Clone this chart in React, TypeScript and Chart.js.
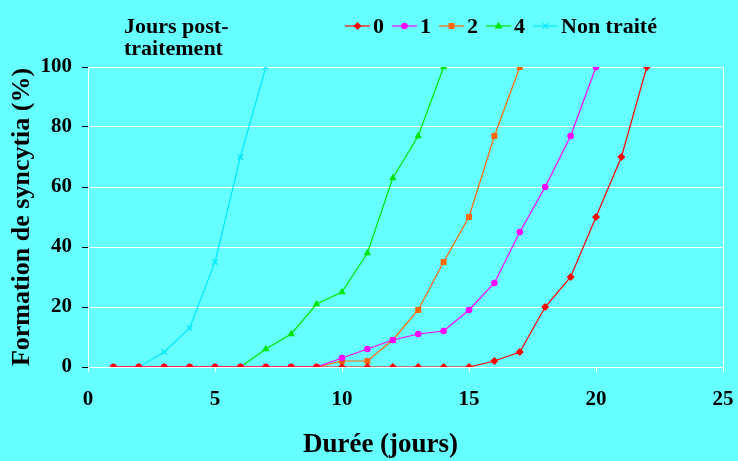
import React, { useEffect, useRef } from 'react';
import { Chart, registerables } from 'chart.js';

Chart.register(...registerables);

const days = [1, 2, 3, 4, 5, 6, 7, 8, 9, 10, 11, 12, 13, 14, 15, 16, 17, 18, 19, 20, 21, 22];
const seriesLabels = ['0', '1', '2', '4', 'Non traité'];
const values0 = [0, 0, 0, 0, 0, 0, 0, 0, 0, 0, 0, 0, 0, 0, 0, 2, 5, 20, 30, 50, 70, 100];
const values1 = [0, 0, 0, 0, 0, 0, 0, 0, 0, 3, 6, 9, 11, 12, 19, 28, 45, 60, 77, 100];
const values2 = [0, 0, 0, 0, 0, 0, 0, 0, 0, 2, 2, 9, 19, 35, 50, 77, 100];
const values4 = [0, 0, 0, 0, 0, 0, 6, 11, 21, 25, 38, 63, 77, 100];
const valuesNT = [0, 0, 5, 13, 35, 70, 100];
const xTicks = [0, 5, 10, 15, 20, 25];
const yTicks = [0, 20, 40, 60, 80, 100];
const legendTitle = ['Jours post-', 'traitement'];
const xTitle = 'Durée (jours)';
const yTitle = 'Formation de syncytia (%)';

const colors = ['#FF0000', '#FF00FF', '#FF6600', '#00E600', '#00E8FF'];
const styles = ['rectRot', 'circle', 'rect', 'triangle', 'crossRot'];
const radii = [4, 3.3, 4.2, 4.3, 3.8];
const allValues = [values0, values1, values2, values4, valuesNT];

const FONT = '"Liberation Serif", serif';

function drawMarker(ctx: CanvasRenderingContext2D, style: string, x: number, y: number, r: number, color: string) {
  ctx.save();
  ctx.fillStyle = color;
  ctx.strokeStyle = color;
  ctx.lineWidth = 1.3;
  ctx.beginPath();
  if (style === 'rectRot') {
    ctx.moveTo(x, y - r);
    ctx.lineTo(x + r, y);
    ctx.lineTo(x, y + r);
    ctx.lineTo(x - r, y);
    ctx.closePath();
    ctx.fill();
  } else if (style === 'circle') {
    ctx.arc(x, y, r, 0, Math.PI * 2);
    ctx.fill();
  } else if (style === 'rect') {
    const s = r * Math.SQRT1_2;
    ctx.rect(x - s, y - s, 2 * s, 2 * s);
    ctx.fill();
  } else if (style === 'triangle') {
    ctx.moveTo(x, y - r);
    ctx.lineTo(x + r * 0.9, y + r * 0.6);
    ctx.lineTo(x - r * 0.9, y + r * 0.6);
    ctx.closePath();
    ctx.fill();
  } else if (style === 'crossRot') {
    const s = r * 0.75;
    ctx.moveTo(x - s, y - s);
    ctx.lineTo(x + s, y + s);
    ctx.moveTo(x + s, y - s);
    ctx.lineTo(x - s, y + s);
    ctx.stroke();
  }
  ctx.restore();
}

const decorPlugin = {
  id: 'decor',
  beforeDatasetsDraw(chart: any) {
    const ctx: CanvasRenderingContext2D = chart.ctx;
    const a = chart.chartArea;
    ctx.save();
    ctx.strokeStyle = '#fff';
    ctx.lineWidth = 1;
    ctx.beginPath();
    ctx.moveTo(Math.round(a.right) + 0.5, a.top);
    ctx.lineTo(Math.round(a.right) + 0.5, a.bottom);
    ctx.stroke();
    ctx.restore();
  },
  afterDraw(chart: any) {
    const ctx: CanvasRenderingContext2D = chart.ctx;
    const a = chart.chartArea;
    ctx.save();
    ctx.fillStyle = '#000';
    ctx.textBaseline = 'alphabetic';
    ctx.textAlign = 'left';
    // x axis title
    ctx.font = `bold 27px ${FONT}`;
    ctx.textAlign = 'center';
    ctx.fillText(xTitle, (a.left + a.right) / 2 - 25, 452);
    // legend
    ctx.textAlign = 'left';
    ctx.font = `bold 22px ${FONT}`;
    ctx.fillText(legendTitle[0], 124, 33);
    ctx.fillText(legendTitle[1], 124, 55);
    let x = 345;
    const y = 26;
    seriesLabels.forEach((lab, i) => {
      ctx.strokeStyle = colors[i];
      ctx.lineWidth = 1.2;
      ctx.beginPath();
      ctx.moveTo(x, y);
      ctx.lineTo(x + 25, y);
      ctx.stroke();
      drawMarker(ctx, styles[i], x + 12.5, y, radii[i], colors[i]);
      ctx.fillStyle = '#000';
      ctx.fillText(lab, x + 28, 33);
      x = x + 28 + ctx.measureText(lab).width + 8;
    });
    ctx.restore();
  },
};

export default function App() {
  const ref = useRef<HTMLCanvasElement>(null);
  useEffect(() => {
    if (!ref.current) return;
    const datasets = seriesLabels.map((lab, i) => ({
      label: lab,
      data: allValues[i].map((v, j) => ({ x: days[j], y: v })),
      borderColor: colors[i],
      backgroundColor: colors[i],
      borderWidth: 1.2,
      pointStyle: styles[i] as any,
      pointRadius: radii[i],
      pointBorderWidth: styles[i] === 'crossRot' ? 1.3 : 0,
      pointBorderColor: colors[i],
      pointBackgroundColor: colors[i],
      tension: 0,
    }));
    const chart = new Chart(ref.current, {
      type: 'line',
      data: { datasets },
      plugins: [decorPlugin],
      options: {
        animation: false,
        responsive: false,
        maintainAspectRatio: false,
        layout: { padding: { top: 67, right: 15, left: 0, bottom: 0 } },
        plugins: { legend: { display: false }, tooltip: { enabled: false } },
        scales: {
          x: {
            type: 'linear',
            min: 0,
            max: 25,
            afterFit: (s: any) => { s.height = 94; s.paddingRight = 0; s.paddingLeft = 0; },
            afterBuildTicks: (s: any) => { s.ticks = xTicks.map((v) => ({ value: v })); },
            ticks: { color: '#000', font: { family: FONT, size: 21, weight: 'bold' }, padding: 15 },
            grid: { drawOnChartArea: false, drawTicks: true, tickLength: 5, tickColor: '#fff', lineWidth: 1 },
            border: { color: '#fff', width: 1 },
            title: { display: false },
          },
          y: {
            type: 'linear',
            min: 0,
            max: 100,
            afterFit: (s: any) => { s.width = 88; },
            afterBuildTicks: (s: any) => { s.ticks = yTicks.map((v) => ({ value: v })); },
            ticks: { color: '#000', font: { family: FONT, size: 21, weight: 'bold' }, padding: 10 },
            grid: { color: '#fff', lineWidth: 1, drawTicks: true, tickLength: 6, tickColor: '#000' },
            border: { color: '#fff', width: 1 },
            title: {
              display: true,
              text: yTitle,
              color: '#000',
              font: { family: FONT, size: 26, weight: 'bold' },
              padding: { top: 7, bottom: 0 },
            },
          },
        },
      } as any,
    });
    return () => chart.destroy();
  }, []);
  return (
    <div style={{ position: 'fixed', left: 0, top: 0, width: 738, height: 461, background: '#66FFFF' }}>
      <canvas ref={ref} width={738} height={461} style={{ width: 738, height: 461, display: 'block' }} />
    </div>
  );
}
